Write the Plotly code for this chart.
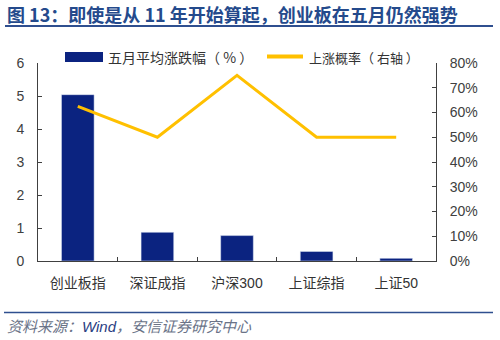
import plotly.graph_objects as go

categories = ["创业板指", "深证成指", "沪深300", "上证综指", "上证50"]
avg_change = [5.04, 0.87, 0.77, 0.29, 0.08]
up_prob = [0.625, 0.50, 0.75, 0.50, 0.50]
left_ticks = [0, 1, 2, 3, 4, 5, 6]
right_ticks = [0, 0.1, 0.2, 0.3, 0.4, 0.5, 0.6, 0.7, 0.8]

W, H = 500, 340
L, R, T, B = 38, 436, 63, 261  # plot area in px

def px_x(p):
    return (p - L) / (R - L)

def px_y(p):
    return (B - p) / (B - T)

FONT = "Liberation Sans, Arial, Noto Sans CJK SC, sans-serif"
BAR_C = "#0B2380"
LINE_C = "#FFC000"
AX_C = "#404040"
TITLE_C = "#244A8C"

fig = go.Figure()
fig.add_trace(go.Bar(x=categories, y=avg_change, marker_color=BAR_C, width=0.41,
                     name="五月平均涨跌幅（%）", showlegend=False))
fig.add_trace(go.Scatter(x=categories, y=up_prob, mode="lines", yaxis="y2",
                         line=dict(color=LINE_C, width=3), name="上涨概率（右轴）",
                         showlegend=False))

fig.update_layout(
    width=W, height=H,
    margin=dict(l=L, r=W - R, t=T, b=H - B, pad=0),
    paper_bgcolor="white", plot_bgcolor="white",
    font=dict(family=FONT, size=13, color=AX_C),
    xaxis=dict(type="category", showline=True, linecolor=AX_C, linewidth=1,
               ticks="inside", ticklen=4, tickcolor=AX_C, tickson="boundaries",
               ticklabelstandoff=9,
               tickfont=dict(family="Liberation Sans, Noto Sans CJK SC", size=14, color="#333333"),
               showgrid=False, zeroline=False),
    yaxis=dict(range=[0, 6], tickvals=left_ticks, showline=True, linecolor=AX_C,
               ticks="inside", ticklen=4, tickcolor=AX_C, showgrid=False, zeroline=False,
               ticklabelstandoff=10,
               tickfont=dict(family="Liberation Sans", size=14, color="#404040")),
    yaxis2=dict(range=[0, 0.8], tickvals=right_ticks, tickformat=".0%", overlaying="y",
                side="right", showline=True, linecolor=AX_C, ticks="inside", ticklen=4,
                tickcolor=AX_C, showgrid=False, zeroline=False, ticklabelstandoff=10,
                tickfont=dict(family="Liberation Sans", size=14, color="#404040")),
    showlegend=False,
)

# Title as annotation
fig.add_annotation(text="<b>图 13：即使是从 11 年开始算起，创业板在五月仍然强势</b>",
                   xref="paper", yref="paper", x=px_x(5), y=px_y(14.5),
                   xanchor="left", yanchor="middle", showarrow=False,
                   font=dict(family="Noto Sans CJK SC, sans-serif", size=18, color=TITLE_C))

# Title underline and footer line
fig.add_shape(type="line", xref="paper", yref="paper", x0=px_x(5), x1=px_x(493),
              y0=px_y(26), y1=px_y(26), line=dict(color="#2F4F8F", width=2))
fig.add_shape(type="line", xref="paper", yref="paper", x0=px_x(4), x1=px_x(493),
              y0=px_y(312.5), y1=px_y(312.5), line=dict(color="#2F4F8F", width=1.5))

# Manual legend
fig.add_shape(type="rect", xref="paper", yref="paper", x0=px_x(65), x1=px_x(103),
              y0=px_y(62), y1=px_y(52), fillcolor=BAR_C, line=dict(width=0))
fig.add_annotation(text="五月平均涨跌幅（ % ）", xref="paper", yref="paper", x=px_x(106),
                   y=px_y(57), xanchor="left", yanchor="middle", showarrow=False,
                   font=dict(family="Noto Sans CJK SC", size=14, color="#333333"))
fig.add_shape(type="line", xref="paper", yref="paper", x0=px_x(267), x1=px_x(303),
              y0=px_y(56.5), y1=px_y(56.5), line=dict(color=LINE_C, width=4))
fig.add_annotation(text="上涨概率（ 右轴 ）", xref="paper", yref="paper", x=px_x(307),
                   y=px_y(57), xanchor="left", yanchor="middle", showarrow=False,
                   font=dict(family="Noto Sans CJK SC", size=13, color="#333333"))

# Source
fig.add_annotation(
    text="<i><span style='color:#6A7388'>资料来源：</span><span style='color:#2A4082'>Wind</span>"
         "<span style='color:#6A7388'>，安信证券研究中心</span></i>",
    xref="paper", yref="paper", x=px_x(5), y=px_y(326), xanchor="left", yanchor="middle",
    showarrow=False, font=dict(family="Liberation Sans, Noto Sans CJK SC", size=15))

fig.write_html("out.html")
